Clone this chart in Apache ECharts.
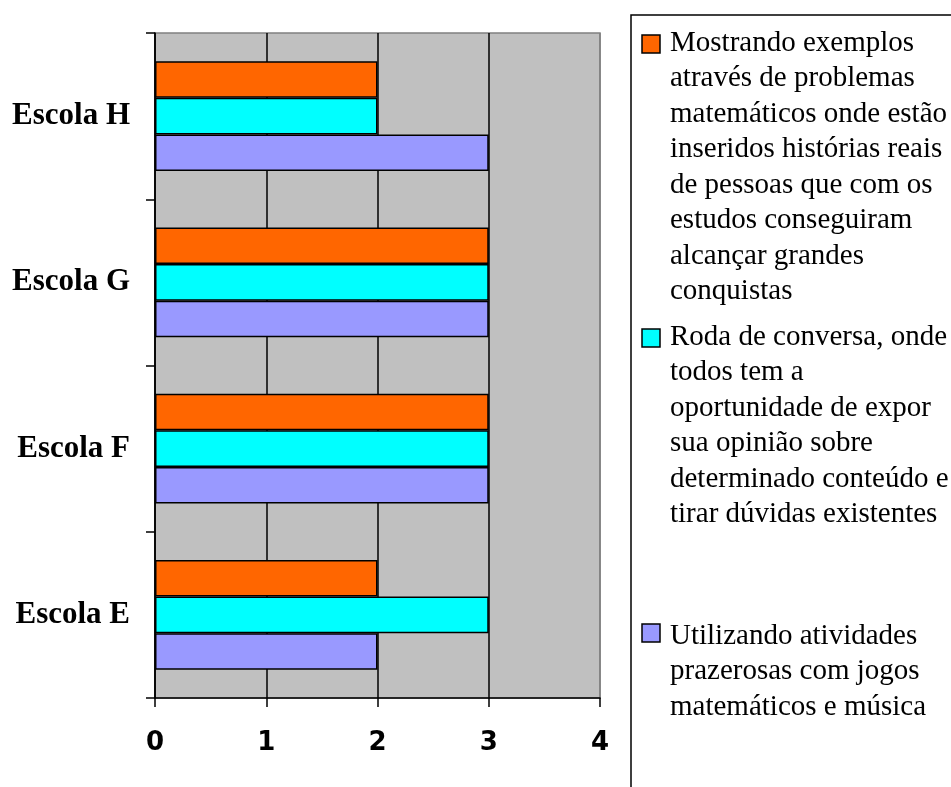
<!DOCTYPE html>
<html>
<head>
<meta charset="utf-8">
<script src="https://cdn.jsdelivr.net/npm/echarts@6/dist/echarts.min.js"></script>
<style>
  html, body { margin: 0; padding: 0; background: #ffffff; }
  #chart { width: 951px; height: 787px; }
</style>
</head>
<body>
<div id="chart"></div>
<script>
// Schools on the category axis (bottom to top)
const categories = ['Escola E', 'Escola F', 'Escola G', 'Escola H'];

// Value axis range
const axisMin = 0;
const axisMax = 4;
const axisStep = 1;

// Series values per school (E, F, G, H)
const mostrando = [2, 3, 3, 2];
const roda = [3, 3, 3, 2];
const utilizando = [2, 3, 3, 3];

// Series names, as shown in the legend (line breaks for the boxed legend)
const nameMostrando = 'Mostrando exemplos\natravés de problemas\nmatemáticos onde estão\ninseridos histórias reais\nde pessoas que com os\nestudos conseguiram\nalcançar grandes\nconquistas';
const nameRoda = 'Roda de conversa, onde\ntodos tem a\noportunidade de expor\nsua opinião sobre\ndeterminado conteúdo e\ntirar dúvidas existentes';
const nameUtilizando = 'Utilizando atividades\nprazerosas com jogos\nmatemáticos e música';

const colorMostrando = '#FF6600';
const colorRoda = '#00FFFF';
const colorUtilizando = '#9999FF';

const chart = echarts.init(document.getElementById('chart'), null, { renderer: 'canvas' });

const barBorder = { borderColor: '#000000', borderWidth: 1.5 };

// Boxed legend on the right: first-line centre and marker top of each entry
const legendEntries = [
  { name: nameMostrando, color: colorMostrando, cy: 43, markerTop: 35 },
  { name: nameRoda, color: colorRoda, cy: 337, markerTop: 329 },
  { name: nameUtilizando, color: colorUtilizando, cy: 636, markerTop: 624 }
];
const legendLineHeight = 35.5;

const legendGraphics = [
  {
    type: 'rect',
    shape: { x: 631, y: 15, width: 400, height: 820 },
    style: { fill: '#ffffff', stroke: '#000000', lineWidth: 1.5 },
    z: 10
  }
];
legendEntries.forEach(function (e) {
  legendGraphics.push({
    type: 'rect',
    shape: { x: 642, y: e.markerTop, width: 18, height: 18 },
    style: { fill: e.color, stroke: '#000000', lineWidth: 1.5 },
    z: 11
  });
  legendGraphics.push({
    type: 'text',
    x: 670,
    y: e.cy - legendLineHeight / 2,
    style: {
      text: e.name,
      font: '29px "Liberation Serif", "Times New Roman", serif',
      lineHeight: legendLineHeight,
      fill: '#000000',
      verticalAlign: 'top',
      align: 'left'
    },
    z: 11
  });
});

const option = {
  animation: false,
  backgroundColor: '#ffffff',
  grid: {
    left: 155,
    right: 351,
    top: 33,
    bottom: 89,
    show: true,
    backgroundColor: '#C0C0C0',
    borderColor: '#808080',
    borderWidth: 1.5
  },
  xAxis: {
    type: 'value',
    min: axisMin,
    max: axisMax,
    interval: axisStep,
    axisLine: { show: true, onZero: false, lineStyle: { color: '#000000', width: 1.5 } },
    axisTick: { show: true, length: 9, lineStyle: { color: '#000000', width: 1.5 } },
    axisLabel: {
      margin: 32,
      color: '#000000',
      fontSize: 26,
      fontWeight: 'bold',
      fontFamily: '"DejaVu Sans", Verdana, sans-serif'
    },
    splitLine: {
      show: true,
      lineStyle: { color: ['#000000', '#000000', '#000000', '#000000', '#808080'], width: 1.5 }
    }
  },
  yAxis: {
    type: 'category',
    data: categories,
    axisLine: { show: true, lineStyle: { color: '#000000', width: 1.5 } },
    axisTick: { show: true, length: 9, alignWithLabel: false, lineStyle: { color: '#000000', width: 1.5 } },
    axisLabel: {
      margin: 25,
      color: '#000000',
      fontSize: 31,
      fontWeight: 'bold',
      fontFamily: '"Liberation Serif", "Times New Roman", serif'
    },
    splitLine: { show: false }
  },
  // Series listed top-to-bottom within each school group
  series: [
    {
      name: nameMostrando,
      type: 'bar',
      data: mostrando,
      barGap: '0%',
      barCategoryGap: '34%',
      itemStyle: Object.assign({ color: colorMostrando }, barBorder)
    },
    {
      name: nameRoda,
      type: 'bar',
      data: roda,
      barGap: '0%',
      barCategoryGap: '34%',
      itemStyle: Object.assign({ color: colorRoda }, barBorder)
    },
    {
      name: nameUtilizando,
      type: 'bar',
      data: utilizando,
      barGap: '0%',
      barCategoryGap: '34%',
      itemStyle: Object.assign({ color: colorUtilizando }, barBorder)
    }
  ],
  graphic: legendGraphics
};

chart.setOption(option);
</script>
</body>
</html>
